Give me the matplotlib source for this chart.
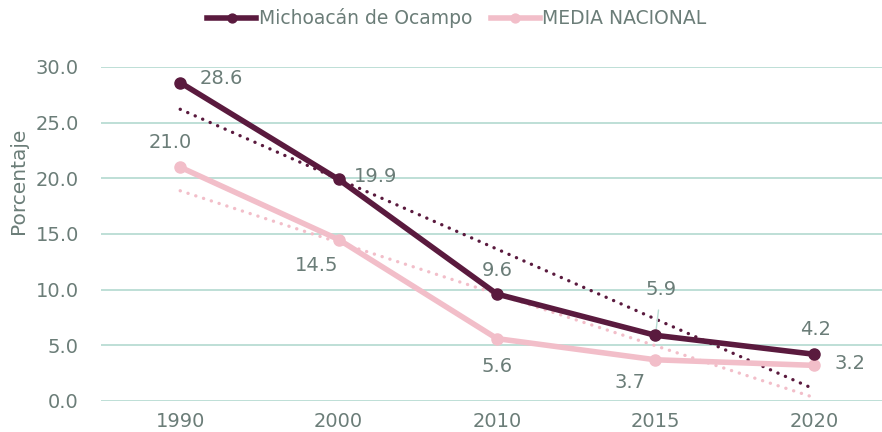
import numpy as np
import matplotlib
matplotlib.use("Agg")
import matplotlib.pyplot as plt

years = ["1990", "2000", "2010", "2015", "2020"]
michoacan = [28.6, 19.9, 9.6, 5.9, 4.2]
nacional = [21.0, 14.5, 5.6, 3.7, 3.2]

dark = "#5a1a3e"
pink = "#f2bec9"
txt = "#6b7d78"
grid = "#b9dcd3"

plt.rcParams['font.family'] = ['DejaVu Sans']

fig = plt.figure(figsize=(8.82, 4.32), dpi=100)
ax = fig.add_axes([0.1145, 0.0718, 0.8855, 0.7732])
x = np.arange(len(years))

# linear trendlines (like excel)
for vals, col in [(michoacan, dark), (nacional, pink)]:
    m, b = np.polyfit(x, vals, 1)
    ax.plot(x, m * x + b, color=col, lw=2.4, ls=(0, (0.05, 2.4)), dash_capstyle='round', zorder=2)

ax.plot(x, nacional, color=pink, lw=4, marker='o', ms=8, label="MEDIA NACIONAL", zorder=3)
ax.plot(x, michoacan, color=dark, lw=4, marker='o', ms=8, label="Michoacán de Ocampo", zorder=4)

fs = 14
# etiquetas Michoacán
ax.annotate("28.6", (0, 28.6), xytext=(14, 3), textcoords='offset points', color=txt, fontsize=fs, va='center', ha='left')
ax.annotate("19.9", (1, 19.9), xytext=(11, 2), textcoords='offset points', color=txt, fontsize=fs, va='center', ha='left')
ax.annotate("9.6", (2, 9.6), xytext=(0, 17), textcoords='offset points', color=txt, fontsize=fs, va='center', ha='center')
ax.annotate("5.9", (3, 5.9), xytext=(4, 33), textcoords='offset points', color=txt, fontsize=fs, va='center', ha='center',
            arrowprops=dict(arrowstyle='-', color=grid, lw=1, shrinkA=6, shrinkB=3))
ax.annotate("4.2", (4, 4.2), xytext=(1, 18), textcoords='offset points', color=txt, fontsize=fs, va='center', ha='center')
# etiquetas nacional
ax.annotate("21.0", (0, 21.0), xytext=(-7, 18), textcoords='offset points', color=txt, fontsize=fs, va='center', ha='center')
ax.annotate("14.5", (1, 14.5), xytext=(-16, -19), textcoords='offset points', color=txt, fontsize=fs, va='center', ha='center')
ax.annotate("5.6", (2, 5.6), xytext=(0, -20), textcoords='offset points', color=txt, fontsize=fs, va='center', ha='center')
ax.annotate("3.7", (3, 3.7), xytext=(-18, -16), textcoords='offset points', color=txt, fontsize=fs, va='center', ha='center')
ax.annotate("3.2", (4, 3.2), xytext=(26, 1), textcoords='offset points', color=txt, fontsize=fs, va='center', ha='center')

ax.set_xlim(-0.5, 4.43)
ax.set_ylim(0, 30)
ax.set_yticks(np.arange(0, 31, 5))
ax.set_yticklabels([f"{v:.1f}" for v in np.arange(0, 31, 5)])
ax.set_xticks(x)
ax.set_xticklabels(years)
ax.tick_params(colors=txt, labelsize=fs, length=0)
ax.tick_params(axis='y', pad=16)
ax.tick_params(axis='x', pad=8)
ax.grid(axis='y', color=grid, lw=1.3)
ax.set_axisbelow(True)
for s in ax.spines.values():
    s.set_visible(False)

fig.text(19 / 882, 1 - 181 / 432, "Porcentaje", rotation=90, color=txt, fontsize=14.5, ha='center', va='center')

handles, labels = ax.get_legend_handles_labels()
leg = fig.legend(handles[::-1], labels[::-1], loc='upper center', bbox_to_anchor=(0.518, 1.02), ncol=2,
                 frameon=False, fontsize=13.5, handlelength=2.6, columnspacing=1.0, handletextpad=0.15, markerscale=0.8)
for t in leg.get_texts():
    t.set_color(txt)

fig.savefig("out.png", dpi=100)
